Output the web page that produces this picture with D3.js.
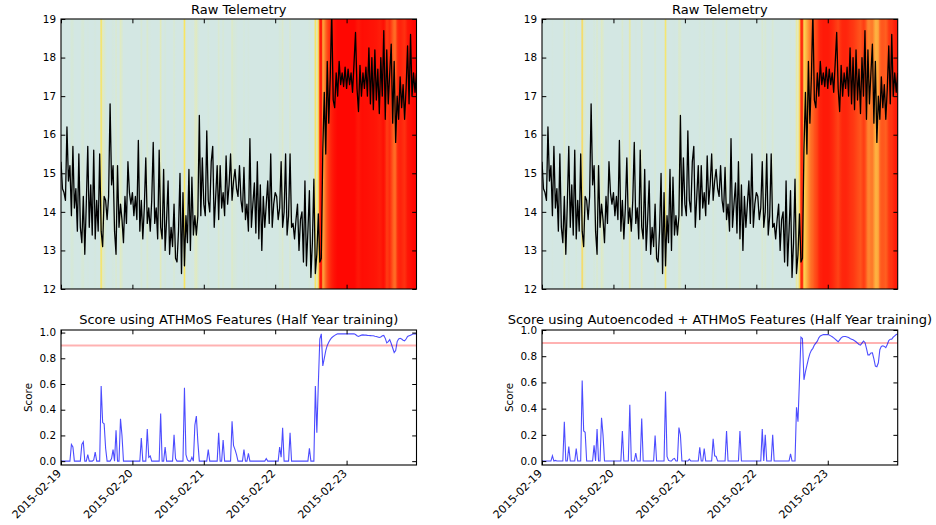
<!DOCTYPE html>
<html>
<head>
<meta charset="utf-8">
<script src="https://cdn.jsdelivr.net/npm/d3@7"></script>
<style>
body { margin: 0; background: #fff; }
svg { font-family: "DejaVu Sans", sans-serif; }
</style>
</head>
<body>
<script>
// samples every 30 minutes, starting 2015-02-19 00:00 UTC
var startTime = Date.UTC(2015, 1, 19);
var stepMs = 30 * 60 * 1000;

// raw telemetry (same in both columns)
var telemetry = [
  15.3, 14.6, 14.5, 14.3, 16.2, 14.8, 15.2, 13.9, 15.7, 14.1, 14.6, 13.5,
  15.5, 13.6, 13.2, 14.4, 12.9, 14.2, 15.7, 13.6, 14.7, 13.4, 15.6, 13.3,
  14.3, 13.5, 15.5, 13.5, 13.1, 14.4, 14.3, 13.8, 14.4, 16.8, 14.7, 15.2,
  13.5, 12.9, 15.2, 13.6, 14.2, 13.8, 13.2, 14.4, 13.7, 15.3, 14.5, 14.2,
  14.5, 13.9, 14.4, 13.8, 15.85, 13.5, 14.3, 13.3, 14.1, 15.4, 13.7, 14.1,
  13.5, 14.3, 15.8, 13.7, 14.1, 13.3, 15.6, 13.6, 13.3, 15.1, 13.0, 13.8,
  14.8, 12.9, 13.6, 13.1, 14.2, 12.8, 12.7, 13.5, 15.0, 12.4, 14.5, 12.6,
  13.9, 13.2, 15.1, 13.0, 14.9, 13.4, 13.9, 13.4, 13.9, 16.5, 13.9, 15.4,
  14.2, 13.9, 16.1, 14.3, 14.0, 15.3, 15.7, 13.6, 14.4, 15.2, 13.8, 15.2,
  14.1, 14.5, 13.9, 15.45, 14.2, 14.7, 15.5, 14.3, 14.8, 15.1, 14.6, 14.4,
  15.2, 14.3, 14.0, 15.15, 13.8, 14.2, 13.5, 15.9, 13.6, 14.2, 14.75, 13.45,
  15.3, 13.3, 14.7, 13.0, 14.4, 13.6, 14.2, 14.8, 13.7, 15.5, 13.6, 14.2,
  14.5, 14.4, 13.8, 14.1, 15.3, 13.6, 14.0, 15.5, 13.4, 13.9, 15.5, 13.6,
  13.7, 13.3, 13.8, 14.2, 13.0, 13.8, 14.0, 12.7, 14.8, 12.6, 13.5, 14.55,
  12.3, 13.2, 14.85, 12.4, 12.9, 13.95, 12.7, 12.8, 15.6, 17.1, 15.5, 17.9,
  16.3, 17.5, 19.2, 16.9, 16.7, 17.6, 17.0, 17.9, 17.3, 17.6, 17.25, 17.75,
  17.2, 17.7, 17.3, 17.6, 17.1, 17.85, 18.65, 17.2, 16.6, 17.8, 17.0, 17.6,
  17.2, 17.75, 17.0, 18.25, 16.8, 18.0, 16.65, 18.2, 16.9, 17.7, 16.55, 18.0,
  17.0, 18.7, 16.4, 18.2, 16.8, 17.6, 18.35, 16.3, 17.9, 15.8, 17.0, 16.4,
  17.5, 16.7, 17.3, 16.4, 17.2, 18.3, 16.8, 18.6, 17.0, 17.6, 17.1, 17.6
];

// anomaly score, ATHMoS features
var scoreAthmos = [
  0, 0, 0, 0, 0, 0, 0, 0.13, 0.11, 0, 0, 0,
  0, 0, 0.13, 0.15, 0, 0, 0.05, 0, 0, 0, 0.01, 0.07,
  0, 0, 0, 0.585, 0.30, 0.29, 0.10, 0, 0, 0, 0.02, 0.09,
  0, 0.24, 0, 0, 0.33, 0.20, 0, 0, 0, 0, 0, 0,
  0, 0, 0, 0, 0, 0, 0.18, 0, 0, 0, 0.25, 0.03,
  0.04, 0, 0, 0, 0, 0, 0, 0.37, 0, 0, 0.11, 0,
  0, 0, 0, 0, 0.205, 0.02, 0, 0, 0, 0, 0, 0.57,
  0.05, 0.01, 0, 0, 0.03, 0, 0.28, 0.35, 0.15, 0, 0, 0,
  0, 0, 0, 0.09, 0, 0, 0, 0, 0, 0, 0.22, 0,
  0, 0.165, 0, 0, 0, 0, 0, 0.31, 0.12, 0.09, 0.05, 0,
  0, 0, 0, 0.09, 0, 0, 0.06, 0, 0, 0, 0, 0,
  0, 0, 0, 0, 0, 0, 0.02, 0, 0, 0, 0, 0,
  0, 0, 0, 0.11, 0.03, 0.26, 0, 0, 0, 0, 0.22, 0,
  0, 0, 0, 0, 0, 0, 0, 0, 0, 0, 0, 0.10,
  0, 0, 0, 0.585, 0.22, 0.60, 0.95, 0.99, 0.74, 0.80, 0.86, 0.90,
  0.925, 0.945, 0.96, 0.97, 0.978, 0.985, 0.99, 0.99, 0.99, 0.99, 0.99, 0.99,
  0.99, 0.99, 0.99, 0.99, 0.99, 0.99, 0.985, 0.975, 0.97, 0.975, 0.98, 0.982,
  0.98, 0.98, 0.978, 0.977, 0.976, 0.975, 0.975, 0.972, 0.97, 0.966, 0.962, 0.965,
  0.975, 0.978, 0.955, 0.92, 0.93, 0.945, 0.915, 0.88, 0.845, 0.86, 0.93, 0.95,
  0.955, 0.95, 0.94, 0.935, 0.95, 0.97, 0.975, 0.98, 0.985, 0.99, 0.99, 0.99
];

// anomaly score, autoencoded + ATHMoS features
var scoreAuto = [
  0, 0, 0, 0, 0, 0, 0, 0.04, 0, 0.005, 0, 0,
  0, 0, 0, 0.30, 0, 0, 0.11, 0, 0, 0, 0, 0.095,
  0, 0, 0, 0.615, 0.23, 0.22, 0, 0, 0, 0, 0, 0.12,
  0, 0.245, 0, 0, 0.33, 0.20, 0, 0, 0, 0, 0, 0,
  0, 0, 0, 0, 0, 0, 0.23, 0, 0, 0, 0, 0.43,
  0, 0, 0, 0.06, 0, 0, 0, 0.325, 0, 0, 0, 0,
  0, 0, 0, 0, 0.195, 0, 0, 0, 0, 0, 0, 0.53,
  0.035, 0.005, 0, 0, 0.015, 0.02, 0, 0, 0.255, 0.20, 0, 0,
  0, 0, 0, 0.015, 0, 0, 0, 0, 0, 0, 0.105, 0,
  0, 0.095, 0, 0, 0, 0, 0, 0.17, 0.04, 0.035, 0, 0,
  0, 0, 0, 0, 0.23, 0, 0, 0, 0, 0, 0, 0,
  0, 0.23, 0, 0, 0, 0, 0, 0, 0, 0, 0, 0,
  0, 0, 0, 0, 0.245, 0, 0.20, 0, 0, 0, 0, 0.20,
  0, 0, 0, 0, 0, 0, 0, 0, 0, 0, 0, 0.055,
  0, 0, 0, 0.41, 0.30, 0.62, 0.945, 0.935, 0.62, 0.68, 0.73, 0.78,
  0.82, 0.845, 0.86, 0.885, 0.90, 0.915, 0.94, 0.955, 0.96, 0.965, 0.965, 0.965,
  0.965, 0.962, 0.955, 0.948, 0.94, 0.93, 0.92, 0.91, 0.925, 0.94, 0.948, 0.95,
  0.95, 0.947, 0.942, 0.935, 0.93, 0.925, 0.918, 0.91, 0.90, 0.89, 0.885, 0.90,
  0.915, 0.905, 0.86, 0.81, 0.81, 0.825, 0.826, 0.78, 0.725, 0.72, 0.75, 0.85,
  0.875, 0.88, 0.875, 0.865, 0.89, 0.92, 0.93, 0.93, 0.945, 0.955, 0.965, 0.97
];

var threshold = 0.9;
var rawTitle = "Raw Telemetry";
var scoreTitles = ["Score using ATHMoS Features (Half Year training)",
                   "Score using Autoencoded + ATHMoS Features (Half Year training)"];

// colour of the background bands, from score
var bandStops = [0, 0.15, 0.35, 0.58, 0.7, 0.8, 0.9, 1];
var bandColors = ["#d3e7e3", "#d6e8d6", "#e0eac2", "#fae55a", "#fdbb45", "#fe8a30", "#ff4a18", "#ff0000"];

var svg = d3.select("body").append("svg")
    .attr("width", 936)
    .attr("height", 525);
var defs = svg.append("defs");

var color = d3.scaleLinear().domain(bandStops).range(bandColors).clamp(true);
var times = telemetry.map(function(d, i) { return new Date(startTime + i * stepMs); });

var columns = [
  {left: 61, right: 416.5, score: scoreAthmos, title: scoreTitles[0]},
  {left: 542, right: 897.7, score: scoreAuto, title: scoreTitles[1]}
];
var top1 = 19, bot1 = 289, top2 = 330, bot2 = 465;
var tick = 4.3, fs = 10.4, dateFs = 11;

function frame(g, x0, x1, y0, y1) {
  g.append("rect")
    .attr("x", x0).attr("y", y0)
    .attr("width", x1 - x0).attr("height", y1 - y0)
    .attr("fill", "none").attr("stroke", "#000").attr("stroke-width", 1.1);
}

function inTicks(g, x, y, x0, x1, y0, y1, yTicks) {
  // classic inward ticks on all four sides
  g.append("g").attr("transform", "translate(0," + y1 + ")")
    .call(d3.axisBottom(x).ticks(d3.utcDay.every(1)).tickSize(-tick).tickFormat(""));
  g.append("g").attr("transform", "translate(0," + y0 + ")")
    .call(d3.axisTop(x).ticks(d3.utcDay.every(1)).tickSize(-tick).tickFormat(""));
  g.append("g").attr("transform", "translate(" + x0 + ",0)")
    .call(d3.axisLeft(y).tickValues(yTicks).tickSize(-tick).tickFormat(""));
  g.append("g").attr("transform", "translate(" + x1 + ",0)")
    .call(d3.axisRight(y).tickValues(yTicks).tickSize(-tick).tickFormat(""));
  g.selectAll(".domain").remove();
  g.selectAll(".tick line").attr("stroke", "#000").attr("stroke-width", 1);
}

columns.forEach(function(c, k) {
  var g = svg.append("g");
  var x = d3.scaleUtc().domain(d3.extent(times)).range([c.left, c.right]);

  // ---- raw telemetry panel
  var yT = d3.scaleLinear().domain([12, 19]).range([bot1, top1]);
  var grad = defs.append("linearGradient")
    .attr("id", "bands" + k)
    .attr("gradientUnits", "userSpaceOnUse")
    .attr("x1", x(times[0])).attr("x2", x(times[times.length - 1]))
    .attr("y1", 0).attr("y2", 0);
  grad.selectAll("stop").data(c.score).enter().append("stop")
    .attr("offset", function(d, i) { return (x(times[i]) - c.left) / (c.right - c.left); })
    .attr("stop-color", function(d) { return color(d); });

  g.append("rect")
    .attr("x", c.left).attr("y", top1)
    .attr("width", c.right - c.left).attr("height", bot1 - top1)
    .attr("fill", "url(#bands" + k + ")");

  defs.append("clipPath").attr("id", "clipT" + k)
    .append("rect").attr("x", c.left).attr("y", top1)
    .attr("width", c.right - c.left).attr("height", bot1 - top1);

  g.append("path")
    .datum(telemetry)
    .attr("clip-path", "url(#clipT" + k + ")")
    .attr("fill", "none")
    .attr("stroke", "#000")
    .attr("stroke-width", 1.3)
    .attr("stroke-linejoin", "round")
    .attr("d", d3.line()
      .x(function(d, i) { return x(times[i]); })
      .y(function(d) { return yT(d); }));

  var tTicks = yT.ticks(7);
  inTicks(g, x, yT, c.left, c.right, top1, bot1, tTicks);
  frame(g, c.left, c.right, top1, bot1);

  g.selectAll(".tlab").data(tTicks).enter().append("text")
    .attr("x", c.left - 5)
    .attr("y", function(d) { return yT(d); })
    .attr("dy", "0.36em")
    .attr("text-anchor", "end")
    .attr("font-size", fs)
    .text(function(d) { return d; });

  g.append("text")
    .attr("x", (c.left + c.right) / 2).attr("y", top1 - 5)
    .attr("text-anchor", "middle").attr("font-size", 13)
    .text(rawTitle);

  // ---- score panel
  var ext = d3.extent(c.score);
  var yS = d3.scaleLinear().domain([ext[0] - 0.03, ext[1] + 0.03]).range([bot2, top2]);
  var sTicks = [0, 0.2, 0.4, 0.6, 0.8, 1.0];

  defs.append("clipPath").attr("id", "clipS" + k)
    .append("rect").attr("x", c.left).attr("y", top2)
    .attr("width", c.right - c.left).attr("height", bot2 - top2);

  g.append("line")
    .attr("x1", c.left).attr("x2", c.right)
    .attr("y1", yS(threshold)).attr("y2", yS(threshold))
    .attr("stroke", "#ff0000").attr("stroke-opacity", 0.3).attr("stroke-width", 2);

  g.append("path")
    .datum(c.score)
    .attr("clip-path", "url(#clipS" + k + ")")
    .attr("fill", "none")
    .attr("stroke", "#0000ff")
    .attr("stroke-opacity", 0.7)
    .attr("stroke-width", 1.1)
    .attr("d", d3.line()
      .x(function(d, i) { return x(times[i]); })
      .y(function(d) { return yS(d); }));

  inTicks(g, x, yS, c.left, c.right, top2, bot2, sTicks);
  frame(g, c.left, c.right, top2, bot2);

  g.selectAll(".slab").data(sTicks).enter().append("text")
    .attr("x", c.left - 5)
    .attr("y", function(d) { return yS(d); })
    .attr("dy", "0.36em")
    .attr("text-anchor", "end")
    .attr("font-size", fs)
    .text(d3.format(".1f"));

  g.selectAll(".dlab").data(x.ticks(d3.utcDay.every(1))).enter().append("text")
    .attr("transform", function(d) { return "translate(" + (x(d) + 1) + "," + (bot2 + 9) + ") rotate(-45)"; })
    .attr("text-anchor", "end")
    .attr("font-size", dateFs)
    .text(d3.utcFormat("%Y-%m-%d"));

  g.append("text")
    .attr("transform", "translate(" + (c.left - 29) + "," + ((top2 + bot2) / 2) + ") rotate(-90)")
    .attr("text-anchor", "middle")
    .attr("font-size", fs)
    .text("Score");

  g.append("text")
    .attr("x", (c.left + c.right) / 2).attr("y", top2 - 6)
    .attr("text-anchor", "middle").attr("font-size", 13)
    .text(c.title);
});
</script>
</body>
</html>
